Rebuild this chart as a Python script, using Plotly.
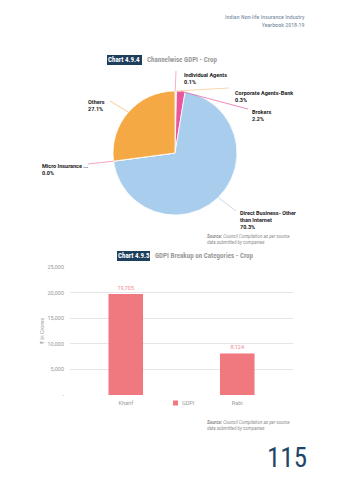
import math
import plotly.graph_objects as go

# ---------------- data ----------------
pie_labels = ["Individual Agents", "Corporate Agents-Bank", "Brokers",
              "Direct Business- Other than Internet", "Micro Insurance ...", "Others"]
pie_values = [0.1, 0.3, 2.2, 70.3, 0.0, 27.1]
pie_label_text = ["Individual Agents", "Corporate Agents-Bank", "Brokers",
                  "Direct Business- Other<br>than Internet", "Micro Insurance ...", "Others"]

bar_categories = ["Kharif", "Rabi"]
bar_values = [19705, 8124]
y_tickvals = [0, 5000, 10000, 15000, 20000, 25000]
y_ticktext = ["-", "5,000", "10,000", "15,000", "20,000", "25,000"]

# ---------------- style ----------------
W, H = 340, 480
def X(px): return px / W
def Y(py): return 1 - py / H

slice_colors = ["#F0609E", "#F6B26B", "#E8579B", "#A8CDED", "#E8579B", "#F4A944"]
line_colors = ["#F08CB8", "#F7C48A", "#E8579B", "#B9CCDD", "#EE7E9C", "#F4B35E"]
NAVY = "#1d3f5e"
NARROW = "Liberation Sans Narrow, Roboto Condensed, Roboto, Arial"
SANS = "Roboto, Liberation Sans, Arial"
BAR_COLOR = "#F07980"

# pie geometry (pixels)
cx, cy, r = 175, 153, 62

fig = go.Figure()

fig.add_trace(go.Pie(
    labels=pie_labels, values=pie_values, sort=False, direction="clockwise",
    rotation=0, textinfo="none", hoverinfo="label+percent", showlegend=False,
    marker=dict(colors=slice_colors, line=dict(color="white", width=0.8)),
    domain=dict(x=[X(cx - r), X(cx + r)], y=[Y(cy + r), Y(cy - r)]),
))

fig.add_trace(go.Bar(
    x=bar_categories, y=bar_values, name="GDPI", marker_color=BAR_COLOR,
    texttemplate="%{y:,}", textposition="outside", cliponaxis=False,
    textfont=dict(size=5.5, color="#F08A90", family=SANS),
    showlegend=False, xaxis="x", yaxis="y",
))

shapes = []
annotations = []

def note(x, y, text, size, color, family=SANS, xanchor="center", yanchor="middle", **kw):
    annotations.append(dict(xref="paper", yref="paper", x=X(x), y=Y(y), text=text,
                            xanchor=xanchor, yanchor=yanchor, showarrow=False,
                            font=dict(size=size, color=color, family=family), **kw))

# ---------- pie leader lines and labels ----------
# (line end x, line end y, text x, text top y)
label_pos = [
    (176, 71, 182, 70),
    (229, 88, 233, 88),
    (248, 109, 250, 107),
    (236, 211, 238, 208),
    (88, 164, 40, 161),
    (110, 101, 86, 97),
]
total = sum(pie_values)
cum = 0
for i, v in enumerate(pie_values):
    mid = (cum + v / 2) / total * 2 * math.pi
    cum += v
    ex = cx + r * math.sin(mid)
    ey = cy - r * math.cos(mid)
    lx, ly, tx, ty = label_pos[i]
    shapes.append(dict(type="line", xref="paper", yref="paper",
                       x0=X(ex), y0=Y(ey), x1=X(lx), y1=Y(ly),
                       line=dict(color=line_colors[i], width=0.7)))
    note(tx, ty, "<b>%s<br>%.1f%%</b>" % (pie_label_text[i], pie_values[i] / total * 100),
         5.5, "#222222", xanchor="left", yanchor="top", align="left")

# ---------- badges & titles ----------
def badge(x0, x1, y0, y1, label, title):
    shapes.append(dict(type="rect", xref="paper", yref="paper",
                       x0=X(x0), x1=X(x1), y0=Y(y1), y1=Y(y0),
                       fillcolor=NAVY, line=dict(width=0)))
    note((x0 + x1) / 2, (y0 + y1) / 2, "<b>%s</b>" % label, 7, "white", NARROW)
    note(x1 + 3, (y0 + y1) / 2, "<b>%s</b>" % title, 7, "#9a9a9a", NARROW, xanchor="left")

badge(107, 142, 55, 65, "Chart 4.9.4", "Channelwise GDPI - Crop")
badge(117, 150, 251, 261, "Chart 4.9.5", "GDPI Breakup on Categories - Crop")

# header
note(307, 11, "Indian Non-life Insurance Industry<br>Yearbook 2018-19", 6, "#6f859b", NARROW,
     xanchor="right", yanchor="top", align="right")
# sources
for sy in (232, 418):
    note(205, sy, "<i><b>Source:</b> Council Compilation as per source<br>data submitted by companies</i>",
         4.5, "#8a8a8a", xanchor="left", yanchor="top", align="left")
# page number
note(287, 458, "115", 27, "#1f4666", NARROW)
# y axis title
note(42, 331, "₹ in Crores", 5.5, "#999999", textangle=-90)
# legend (manual)
shapes.append(dict(type="rect", xref="paper", yref="paper", x0=X(173), x1=X(178), y0=Y(405.5), y1=Y(400.5),
                   fillcolor=BAR_COLOR, line=dict(width=0)))
note(179.5, 403, "GDPI", 5.5, "#999999", xanchor="left")

fig.update_layout(
    template="none", width=W, height=H, margin=dict(l=0, r=0, t=0, b=0),
    paper_bgcolor="white", plot_bgcolor="white", showlegend=False,
    bargap=0.69, shapes=shapes, annotations=annotations,
    xaxis=dict(domain=[X(70), X(293)], showgrid=False, zeroline=False, showline=False, ticks="",
               ticklabelstandoff=3,
               tickfont=dict(size=5.5, color="#999999", family=SANS), automargin=False),
    yaxis=dict(domain=[Y(395), Y(267)], range=[0, 25000], tickvals=y_tickvals, ticktext=y_ticktext,
               showgrid=True, gridcolor="#e6e6e6", gridwidth=0.8, zeroline=False, showline=False,
               ticks="", ticklabelstandoff=5,
               tickfont=dict(size=5.5, color="#999999", family=SANS), automargin=False),
)

fig.write_html("out.html")
